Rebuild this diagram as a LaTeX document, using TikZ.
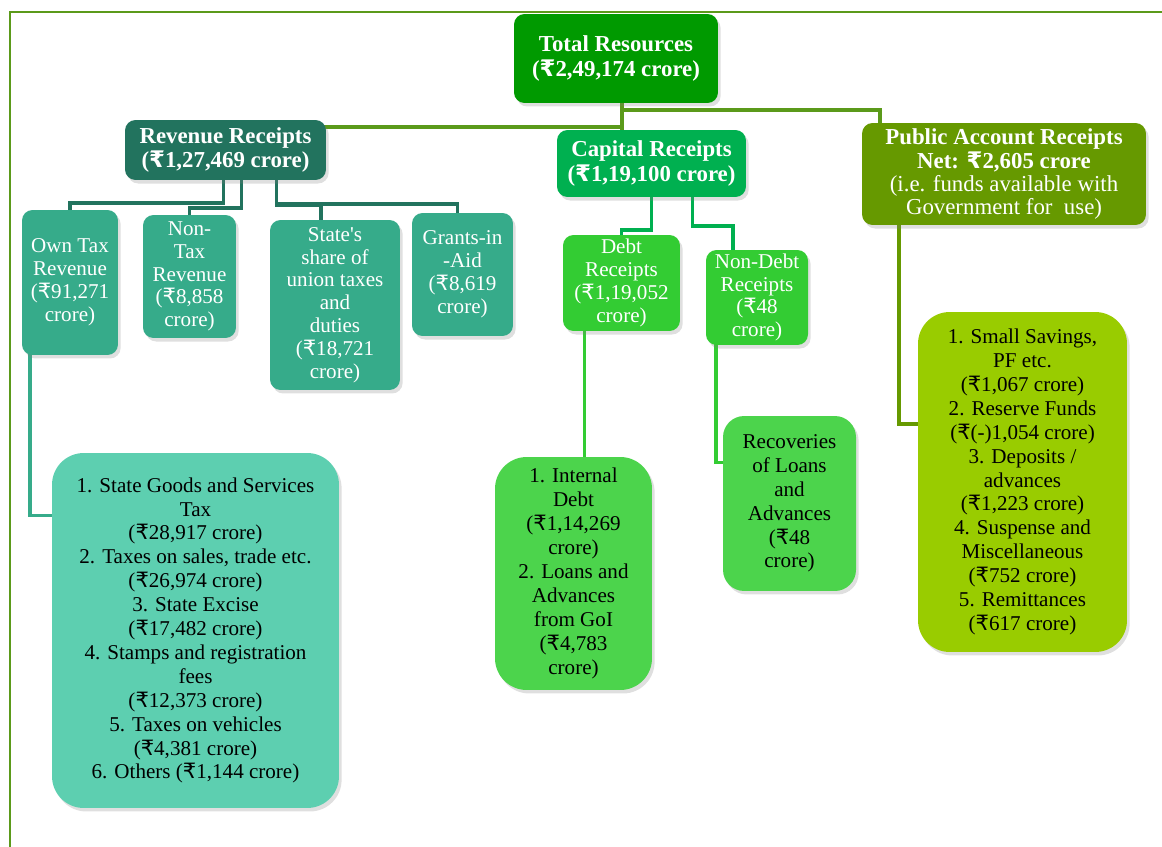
\documentclass[tikz,border=0pt]{standalone}
\usepackage{fontspec}
\usepackage{newunicodechar}
\setmainfont{Liberation Serif}
\newfontfamily\rsfont{DejaVu Sans}
\newunicodechar{₹}{{\rsfont\char"20B9}}
\usetikzlibrary{calc,shadows,backgrounds}

\definecolor{frameGreen}{HTML}{5B9A1A}
\definecolor{totGreen}{HTML}{009A00}
\definecolor{revTeal}{HTML}{22735E}
\definecolor{capGreen}{HTML}{00B050}
\definecolor{pubOlive}{HTML}{669900}
\definecolor{subTeal}{HTML}{36AB8A}
\definecolor{debtGreen}{HTML}{33CC33}
\definecolor{mint}{HTML}{5DCFB0}
\definecolor{leaf}{HTML}{4CD44C}
\definecolor{lime}{HTML}{99CC00}

\begin{document}
\begin{tikzpicture}[x=0.02cm,y=-0.02cm,
    box/.style={rounded corners=6pt, align=center, inner sep=2pt,
        font=\fontsize{12}{13}\selectfont,
        drop shadow={shadow xshift=1.5pt,shadow yshift=-2pt,opacity=0.25}},
    head/.style={box, text=white, font=\bfseries\fontsize{13}{14}\selectfont},
    sub/.style={box, text=white},
    list/.style={box, rounded corners=18pt, text=black, font=\fontsize{12}{13.6}\selectfont},
    link/.style={line width=2.2pt}]
    \useasboundingbox (0,0) rectangle (1162,847);

    % frame
    \draw[frameGreen, line width=1.2pt] (10,847) -- (10,12) -- (1162,12);

    % top level
    \node[head, fill=totGreen, minimum width=4.08cm, minimum height=1.78cm] (tot) at (616,58.5)
        {Total Resources\\(₹2,49,174 crore)};
    \node[head, fill=revTeal, minimum width=4.02cm, minimum height=1.2cm] (rev) at (225.5,150)
        {Revenue Receipts\\(₹1,27,469 crore)};
    \node[head, fill=capGreen, minimum width=3.78cm, minimum height=1.34cm] (cap) at (651.5,163.5)
        {Capital Receipts\\(₹1,19,100 crore)};
    \node[head, fill=pubOlive, minimum width=5.68cm, minimum height=2.04cm] (pub) at (1004,174)
        {Public Account Receipts\\Net: ₹2,605 crore\\[-1pt]
         {\mdseries (i.e. funds available with}\\[-1pt]{\mdseries Government for\ \ use)}};

    % revenue receipts
    \node[sub, fill=subTeal, minimum width=1.92cm, minimum height=2.9cm] (own) at (70,282.5)
        {Own Tax\\Revenue\\(₹91,271\\crore)};
    \node[sub, fill=subTeal, minimum width=1.86cm, minimum height=2.46cm] (non) at (189.5,276.5)
        {Non-\\Tax\\Revenue\\(₹8,858\\crore)};
    \node[sub, fill=subTeal, minimum width=2.6cm, minimum height=3.4cm] (sta) at (335,305)
        {State\textquotesingle s\\share of\\union taxes\\and\\duties\\(₹18,721\\crore)};
    \node[sub, fill=subTeal, minimum width=2.02cm, minimum height=2.46cm] (gia) at (462.5,274.5)
        {Grants-in\\-Aid\\(₹8,619\\crore)};

    % capital receipts
    \node[sub, fill=debtGreen, minimum width=2.34cm, minimum height=1.92cm] (dbt) at (621.5,283)
        {Debt\\Receipts\\(₹1,19,052\\crore)};
    \node[sub, fill=debtGreen, minimum width=2.04cm, minimum height=1.9cm] (ndb) at (757,297.5)
        {Non-Debt\\Receipts\\(₹48\\crore)};

    % details
    \node[list, fill=mint, minimum width=5.74cm, minimum height=7.1cm] (otl) at (195.5,630.5)
        {1. State Goods and Services\\Tax\\(₹28,917 crore)\\2. Taxes on sales, trade etc.\\(₹26,974 crore)\\
         3. State Excise\\(₹17,482 crore)\\4. Stamps and registration\\fees\\(₹12,373 crore)\\
         5. Taxes on vehicles\\(₹4,381 crore)\\6. Others (₹1,144 crore)};
    \node[list, fill=leaf, minimum width=3.14cm, minimum height=4.66cm] (idl) at (573.5,573.5)
        {1. Internal\\Debt\\(₹1,14,269\\crore)\\2. Loans and\\Advances\\from GoI\\(₹4,783\\crore)};
    \node[list, fill=leaf, rounded corners=12pt, minimum width=2.66cm, minimum height=3.5cm] (rec) at (789.5,503.5)
        {Recoveries\\of Loans\\and\\Advances\\(₹48\\crore)};
    \node[list, fill=lime, minimum width=4.18cm, minimum height=6.8cm] (pal) at (1022.5,482)
        {1. Small Savings,\\PF etc.\\(₹1,067 crore)\\2. Reserve Funds\\(₹(-)1,054 crore)\\
         3. Deposits /\\advances\\(₹1,223 crore)\\4. Suspense and\\Miscellaneous\\
         (₹752 crore)\\5. Remittances\\(₹617 crore)};

    \begin{pgfonlayer}{background}
    % from total
    \draw[link, frameGreen] ($(tot.south)+(6,0)$) -- ++(0,24) -| ($(rev.north east)+(-46,0)$);
    \draw[link, frameGreen] ($(tot.south)+(6,0)$) -- ++(0,27);
    \draw[link, frameGreen] ($(tot.south)+(6,0)$) -- ++(0,7) -| ($(pub.north west)+(18,0)$);
    % from revenue
    \draw[link, revTeal] ($(rev.south)+(-2,0)$) -- ++(0,23) -| (own.north);
    \draw[link, revTeal] ($(rev.south)+(16,0)$) -- ++(0,28) -| (non.north);
    \draw[link, revTeal] ($(rev.south)+(51,0)$) -- ++(0,25) -| ($(sta.north)+(-14,0)$);
    \draw[link, revTeal] ($(rev.south)+(51,0)$) -- ++(0,24) -| ($(gia.north)+(-5,0)$);
    % from capital
    \draw[link, capGreen] (cap.south) -- ++(0,33) -| (dbt.north);
    \draw[link, capGreen] ($(cap.south)+(41,0)$) -- ++(0,29) -| ($(ndb.north west)+(27,0)$);
    % to details
    \draw[link, subTeal] ($(own.south west)+(8,-2)$) |- ($(otl.west)+(0,-115)$);
    \draw[link, debtGreen] ($(dbt.south)+(-37,0)$) -- ($(idl.north)+(11,0)$);
    \draw[link, debtGreen] ($(ndb.south west)+(10,-2)$) |- ($(rec.west)+(0,-41)$);
    \draw[link, pubOlive] ($(pub.south west)+(37,0)$) |- ($(pal.west)+(0,-58)$);
    \end{pgfonlayer}
\end{tikzpicture}
\end{document}
